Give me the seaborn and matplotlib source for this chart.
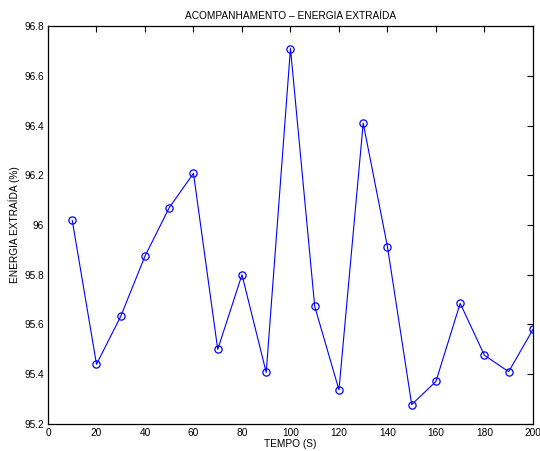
import matplotlib
matplotlib.use("Agg")
import matplotlib.pyplot as plt
import seaborn as sns
import pandas as pd

tempo = [10, 20, 30, 40, 50, 60, 70, 80, 90, 100,
         110, 120, 130, 140, 150, 160, 170, 180, 190, 200]
energia = [96.019, 95.44, 95.633, 95.875, 96.07, 96.208, 95.50, 95.80, 95.407, 96.71,
           95.673, 95.337, 96.41, 95.913, 95.278, 95.371, 95.685, 95.476, 95.41, 95.58]
x_ticks = [0, 20, 40, 60, 80, 100, 120, 140, 160, 180, 200]
y_ticks = [95.2, 95.4, 95.6, 95.8, 96.0, 96.2, 96.4, 96.6, 96.8]
y_labels = ["95.2", "95.4", "95.6", "95.8", "96", "96.2", "96.4", "96.6", "96.8"]

sns.set_theme(style="white")
plt.rcParams["font.family"] = ["Liberation Sans", "DejaVu Sans"]
plt.rcParams["text.color"] = "black"
plt.rcParams["axes.labelcolor"] = "black"

df = pd.DataFrame({"tempo": tempo, "energia": energia})

fig = plt.figure(figsize=(5.40, 4.51), dpi=100)
ax = fig.add_axes([0.0889, 0.060, 0.898, 0.882])

sns.lineplot(data=df, x="tempo", y="energia", ax=ax, color="#0000ff",
             linewidth=0.8, marker="o", markersize=5.2,
             markerfacecolor="none", markeredgecolor="#0000ff",
             markeredgewidth=0.9)

ax.set_xlim(0, 200)
ax.set_ylim(95.2, 96.8)
ax.set_xticks(x_ticks)
ax.set_yticks(y_ticks)
ax.set_yticklabels(y_labels)
ax.tick_params(direction="in", length=4, width=0.8, labelsize=7.3,
               top=True, right=True, colors="black", labelcolor="black", pad=3)
for s in ax.spines.values():
    s.set_visible(True)
    s.set_color("black")
    s.set_linewidth(0.9)

ax.set_xlabel("TEMPO (S)", fontsize=7.3, labelpad=1, color="black")
ax.set_ylabel("ENERGIA EXTRAÍDA (%)", fontsize=7.3, labelpad=3, color="black")
ax.set_title("ACOMPANHAMENTO – ENERGIA EXTRAÍDA", fontsize=7.3, pad=5, color="black")

fig.savefig("out.png", dpi=100, facecolor="white")
